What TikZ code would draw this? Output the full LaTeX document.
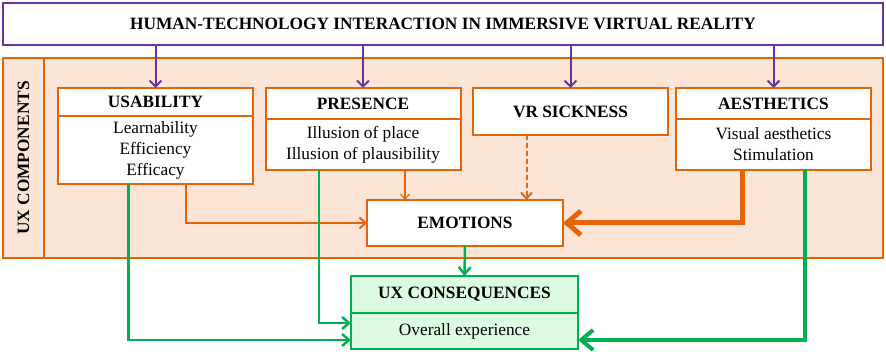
\documentclass[tikz,border=0pt]{standalone}
\usepackage{fontspec}
\setmainfont{Liberation Serif}
\usepackage{tikz}
\usetikzlibrary{positioning,calc,arrows.meta}
\definecolor{uxpurple}{RGB}{112,48,160}
\definecolor{uxorange}{RGB}{228,100,10}
\definecolor{uxpeach}{RGB}{252,228,214}
\definecolor{uxgreen}{RGB}{0,176,80}
\definecolor{uxmint}{RGB}{221,251,226}

\begin{document}
\begin{tikzpicture}[x=1pt,y=1pt,
  every node/.style={font=\fontsize{17.3}{21}\selectfont,inner sep=0pt,outer sep=0pt},
  titlebox/.style={rectangle,draw=uxpurple,line width=2pt,fill=white,minimum width=880pt,minimum height=42pt,font=\fontsize{17.3}{21}\selectfont\bfseries},
  frame/.style={rectangle,draw=uxorange,line width=2pt,fill=uxpeach,minimum width=880pt,minimum height=200pt},
  head/.style={rectangle,draw=uxorange,line width=2pt,fill=white,minimum width=195pt,align=center,font=\fontsize{17.3}{21}\selectfont\bfseries},
  list/.style={rectangle,draw=uxorange,line width=2pt,fill=white,minimum width=195pt,align=center},
  conshead/.style={rectangle,draw=uxgreen,line width=2.5pt,fill=uxmint,minimum width=227pt,align=center,font=\fontsize{17.3}{21}\selectfont\bfseries},
  conslist/.style={rectangle,draw=uxgreen,line width=2.5pt,fill=uxmint,minimum width=227pt,align=center},
  purplearrow/.style={draw=uxpurple,line width=2pt,-{Straight Barb[length=6pt,width=12pt]}},
  orangearrow/.style={draw=uxorange,line width=2pt,-{Straight Barb[length=6pt,width=11pt]}},
  thinarrow/.style={draw=uxorange,line width=1.2pt,-{Straight Barb[length=5pt,width=9pt]}},
  dasharrow/.style={draw=uxorange,line width=2pt,dashed,dash pattern=on 5pt off 3pt,-{Straight Barb[length=6pt,width=11pt]}},
  bigorange/.style={draw=uxorange,line width=5pt,-{Straight Barb[length=14pt,width=24pt]}},
  greenarrow/.style={draw=uxgreen,line width=2.5pt,-{Straight Barb[length=7pt,width=12pt]}},
  biggreen/.style={draw=uxgreen,line width=4pt,-{Straight Barb[length=12pt,width=20pt]}}
]
\useasboundingbox (0,0) rectangle (886,352);
\node[titlebox] (title) at (443,328) {HUMAN-TECHNOLOGY INTERACTION IN IMMERSIVE VIRTUAL REALITY};
\node[frame] (comp) at (443,194) {};
\draw[draw=uxorange,line width=2pt] ([xshift=41pt]comp.north west) -- ([xshift=41pt]comp.south west);
\node[rotate=90,font=\fontsize{17.3}{21}\selectfont\bfseries] (complabel) at (23.5,194) {UX COMPONENTS};
% component boxes
\node[head,minimum height=28pt] (usab) at (155.5,250) {USABILITY};
\node[list,minimum height=68pt,below=0pt of usab] (usabList) {Learnability\\Efficiency\\Efficacy};
\node[head,minimum height=31pt] (pres) at (363,248.5) {PRESENCE};
\node[list,minimum height=51pt,below=0pt of pres] (presList) {Illusion of place\\Illusion of plausibility};
\node[head,minimum height=47pt] (vr) at (570.5,240.5) {VR SICKNESS};
\node[head,minimum height=31pt] (aes) at (773.5,248.5) {AESTHETICS};
\node[list,minimum height=51pt,below=0pt of aes] (aesList) {Visual aesthetics\\Stimulation};
\node[head,minimum width=196pt,minimum height=46pt] (emo) at (465,129) {EMOTIONS};
% consequences
\node[conshead,minimum height=37pt] (uxc) at (464.5,57.5) {UX CONSEQUENCES};
\node[conslist,minimum height=36pt,below=0pt of uxc] (uxcList) {Overall experience};
% interaction arrows
\draw[purplearrow] (usab.north |- title.south) -- (usab.north);
\draw[purplearrow] (pres.north |- title.south) -- (pres.north);
\draw[purplearrow] (vr.north |- title.south) -- (vr.north);
\draw[purplearrow] (aes.north |- title.south) -- (aes.north);
% to emotions
\draw[orangearrow] ([xshift=30pt]usabList.south) |- (emo.west);
\draw[thinarrow] ([xshift=42pt]presList.south) -- ([xshift=42pt]presList.south |- emo.north);
\draw[dasharrow] ([xshift=-44pt]vr.south) -- ([xshift=-44pt]vr.south |- emo.north);
\draw[bigorange] ([xshift=-31pt]aesList.south) |- (emo.east);
% to consequences
\draw[greenarrow] (emo.south) -- (uxc.north);
\draw[greenarrow] ([xshift=-27pt]usabList.south) |- ([yshift=-9pt]uxcList.west);
\draw[greenarrow] ([xshift=-44pt]presList.south) |- ([yshift=8pt]uxcList.west);
\draw[biggreen] ([xshift=31pt]aesList.south) |- ([yshift=-9pt]uxcList.east);
\end{tikzpicture}
\end{document}
